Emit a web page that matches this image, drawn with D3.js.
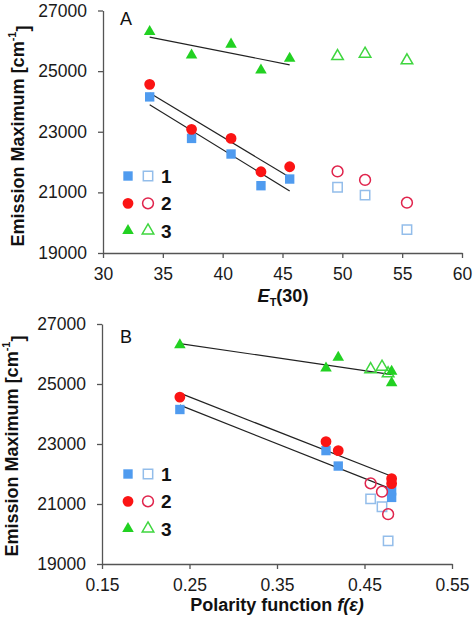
<!DOCTYPE html>
<html><head><meta charset="utf-8">
<script src="https://cdn.jsdelivr.net/npm/d3@7"></script>
<style>
body{margin:0;background:#fff;}
svg{display:block;font-family:"Liberation Sans",Arial,sans-serif;}
</style></head>
<body><svg id="c" width="474" height="623"></svg>
<script>
// ---- data ----
const etFilled   = [33.9, 37.4, 40.7, 43.2, 45.6];
const etOpen     = [49.6, 51.9, 55.4];
const fFilled    = [0.239, 0.406, 0.420, 0.481, 0.481];
const fOpen      = [0.457, 0.470, 0.477];
const s1Filled   = [24150, 22780, 22265, 21220, 21440];
const s1Open     = [21170, 20910, 19770];
const s2Filled   = [24564, 23080, 22780, 21680, 21845];
const s2Open     = [21690, 21410, 20660];
const s3Filled   = [26300, 25530, 25885, 25035, 25420];
const s3Open     = [25490, 25570, 25350];
const seriesNames = ["1", "2", "3"];
const etTicks = [30, 35, 40, 45, 50, 55, 60];
const fTicks  = [0.15, 0.25, 0.35, 0.45, 0.55];
const yTicks  = [19000, 21000, 23000, 25000, 27000];

const series = [
  {name: seriesNames[0], filled: s1Filled, open: s1Open, shape: d3.symbolSquare, size: 88, fill: "#4f9bef", stroke: "#93bdea"},
  {name: seriesNames[1], filled: s2Filled, open: s2Open, shape: d3.symbolCircle, size: 92, fill: "#fb1414", stroke: "#e0244c"},
  {name: seriesNames[2], filled: s3Filled, open: s3Open, shape: d3.symbolTriangle, size: 58, fill: "#22d122", stroke: "#3fd63f"}
];

const svg = d3.select("#c");

function regress(xs, ys) {
  const n = xs.length, mx = d3.mean(xs), my = d3.mean(ys);
  let sxy = 0, sxx = 0;
  for (let i = 0; i < n; i++) { sxy += (xs[i]-mx)*(ys[i]-my); sxx += (xs[i]-mx)**2; }
  const b = sxy / sxx;
  return x => my + b * (x - mx);
}

function panel(cfg) {
  const g = svg.append("g");
  const x = d3.scaleLinear().domain(cfg.xdom).range(cfg.xr);
  const y = d3.scaleLinear().domain([19000, 27000]).range(cfg.yr);

  const xa = g.append("g").attr("transform", `translate(0,${cfg.yr[0]})`)
    .call(d3.axisBottom(x).tickValues(cfg.xticks).tickFormat(cfg.xfmt).tickSize(5).tickSizeOuter(0).tickPadding(10));
  const ya = g.append("g").attr("transform", `translate(${cfg.xr[0]},0)`)
    .call(d3.axisLeft(y).tickValues(yTicks).tickFormat(d3.format("d")).tickSize(5).tickSizeOuter(0).tickPadding(11));
  [xa, ya].forEach(a => {
    a.selectAll("path,line").attr("stroke", "#555").attr("stroke-width", 1.3);
    a.selectAll("text").attr("font-size", 17.5).attr("fill", "#1a1a1a").attr("font-family", "Liberation Sans, Arial, sans-serif");
  });

  // fit lines
  series.forEach(s => {
    const f = regress(cfg.xf, s.filled);
    const x0 = d3.min(cfg.xf), x1 = d3.max(cfg.xf);
    g.append("line").attr("x1", x(x0)).attr("y1", y(f(x0))).attr("x2", x(x1)).attr("y2", y(f(x1)))
      .attr("stroke", "#222").attr("stroke-width", 1.2);
  });

  // points
  series.forEach(s => {
    const sym = d3.symbol().type(s.shape).size(s.size);
    g.selectAll(null).data(s.open.map((v, i) => [cfg.xo[i], v])).join("path")
      .attr("d", sym).attr("transform", d => `translate(${x(d[0])},${y(d[1])})`)
      .attr("fill", "none").attr("stroke", s.stroke).attr("stroke-width", 1.5);
    g.selectAll(null).data(s.filled.map((v, i) => [cfg.xf[i], v])).join("path")
      .attr("d", sym).attr("transform", d => `translate(${x(d[0])},${y(d[1])})`)
      .attr("fill", s.fill);
  });

  // legend
  series.forEach((s, i) => {
    const ly = cfg.legY + i * 27.3;
    const sym = d3.symbol().type(s.shape).size(s.size);
    g.append("rect").attr("x", 119).attr("y", ly - 12).attr("width", 60).attr("height", 24).attr("fill", "#fff");
    g.append("path").attr("d", sym).attr("transform", `translate(128,${ly})`).attr("fill", s.fill);
    g.append("path").attr("d", sym).attr("transform", `translate(148,${ly})`).attr("fill", "none").attr("stroke", s.stroke).attr("stroke-width", 1.5);
    g.append("text").attr("x", 161).attr("y", ly + 7).attr("font-size", 19).attr("font-weight", "bold").attr("fill", "#111").text(s.name);
  });

  // panel label
  g.append("text").attr("x", 120).attr("y", cfg.labY).attr("font-size", 18).attr("fill", "#111").text(cfg.label);

  // y title
  const yt = g.append("text").attr("transform", `translate(${cfg.ytx},${cfg.yty}) rotate(-90)`)
    .attr("text-anchor", "middle").attr("dy", "0.35em").attr("font-size", 18).attr("font-weight", "bold").attr("fill", "#111");
  yt.append("tspan").text("Emission Maximum [cm");
  yt.append("tspan").attr("font-size", 11).attr("dy", "-0.75em").text("-1");
  yt.append("tspan").attr("dy", "0.75em").text("]");

  // x title
  const xt = g.append("text").attr("x", cfg.xtx).attr("y", cfg.xty).attr("text-anchor", "middle")
    .attr("font-size", 18).attr("font-weight", "bold").attr("fill", "#111");
  cfg.xtitle(xt);
}

panel({
  xdom: [30, 60], xr: [103, 462], yr: [253, 10.5], xticks: etTicks, xfmt: d3.format("d"),
  xf: etFilled, xo: etOpen, legY: 176, label: "A", labY: 25,
  ytx: 17.5, yty: 136, xtx: 283, xty: 302,
  xtitle: t => {
    t.append("tspan").attr("font-style", "italic").text("E");
    t.append("tspan").attr("font-size", 11).attr("dy", "4").text("T");
    t.append("tspan").attr("dy", "-4").text("(30)");
  }
});

panel({
  xdom: [0.15, 0.55], xr: [102, 452], yr: [564, 324], xticks: fTicks, xfmt: d3.format(".2f"),
  xf: fFilled, xo: fOpen, legY: 474, label: "B", labY: 343,
  ytx: 12, yty: 446, xtx: 277, xty: 611,
  xtitle: t => {
    t.append("tspan").text("Polarity function ");
    t.append("tspan").attr("font-style", "italic").text("f(ε)");
  }
});
</script></body></html>
